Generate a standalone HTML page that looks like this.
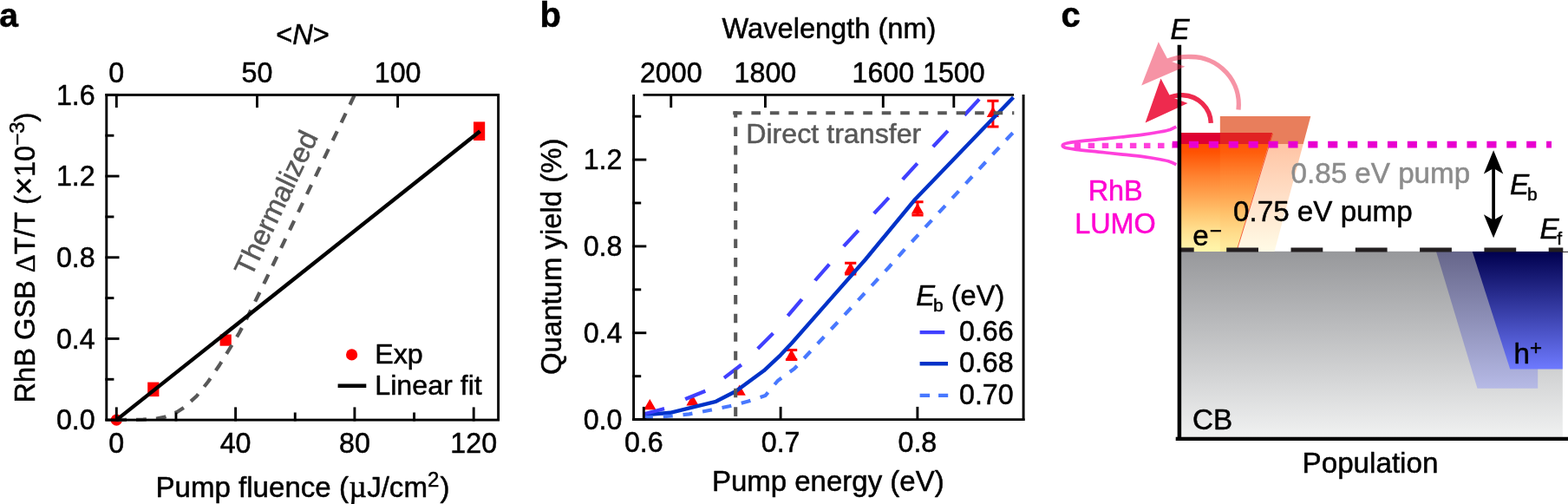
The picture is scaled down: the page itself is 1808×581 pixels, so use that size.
<!DOCTYPE html>
<html lang="en"><head><meta charset="utf-8"><title>Figure</title>
<style>
html,body{margin:0;padding:0;background:#fff;}
body{width:1808px;height:581px;overflow:hidden;}
svg{display:block;font-family:"Liberation Sans",sans-serif;}
text{stroke-width:0.5px;stroke-linejoin:round;}
</style></head><body>
<svg width="1808" height="581" viewBox="0 0 1808 581">
<rect width="1808" height="581" fill="#fff"/>
<g id="panel-a">
<text x="-0.8" y="31" text-anchor="start" font-size="39" fill="#000" stroke="#000" font-weight="bold">a</text>
<circle cx="134.3" cy="484.1" r="6.6" fill="#ff0000"/>
<rect x="170.2" y="440.6" width="13.2" height="16.5" fill="#ff0000"/>
<rect x="253.6" y="385.5" width="13.2" height="13.2" fill="#ff0000"/>
<rect x="546" y="140.4" width="13.2" height="21.6" fill="#ff0000"/>
<polyline points="408.6,110.0 306.3,323.0 296.5,343.0 286.6,363.0 276.0,383.5 264.5,402.5 253.0,421.0 240.0,440.0 226.8,456.5 212.5,469.5 203.7,475.2 190.5,480.6 180.6,482.6 165.0,483.7 134.3,484.1" fill="none" stroke="#585858" stroke-width="4.2" stroke-dasharray="11.9 11" stroke-dashoffset="0" stroke-linejoin="round"/>
<line x1="134.3" y1="484.1" x2="553.5" y2="151.3" stroke="#000" stroke-width="4.4" />
<rect x="122.8" y="109.4" width="451.8" height="374.7" fill="none" stroke="#000" stroke-width="2.9"/>
<line x1="134.3" y1="485.5" x2="134.3" y2="469.40000000000003" stroke="#000" stroke-width="2.9" />
<text transform="translate(134.30,521.80) scale(1,1.04)" text-anchor="middle" font-size="32.2" fill="#000" stroke="#000" >0</text>
<line x1="271.6" y1="485.5" x2="271.6" y2="469.40000000000003" stroke="#000" stroke-width="2.9" />
<text transform="translate(271.60,521.80) scale(1,1.04)" text-anchor="middle" font-size="32.2" fill="#000" stroke="#000" >40</text>
<line x1="408.90000000000003" y1="485.5" x2="408.90000000000003" y2="469.40000000000003" stroke="#000" stroke-width="2.9" />
<text transform="translate(408.90,521.80) scale(1,1.04)" text-anchor="middle" font-size="32.2" fill="#000" stroke="#000" >80</text>
<line x1="546.2" y1="485.5" x2="546.2" y2="469.40000000000003" stroke="#000" stroke-width="2.9" />
<text transform="translate(546.20,521.80) scale(1,1.04)" text-anchor="middle" font-size="32.2" fill="#000" stroke="#000" >120</text>
<line x1="202.95000000000002" y1="485.5" x2="202.95000000000002" y2="475.5" stroke="#000" stroke-width="2.9" />
<line x1="340.25" y1="485.5" x2="340.25" y2="475.5" stroke="#000" stroke-width="2.9" />
<line x1="477.55" y1="485.5" x2="477.55" y2="475.5" stroke="#000" stroke-width="2.9" />
<line x1="134.3" y1="108.0" x2="134.3" y2="124.10000000000001" stroke="#000" stroke-width="2.9" />
<text transform="translate(134.30,95.00) scale(1,1.04)" text-anchor="middle" font-size="32.2" fill="#000" stroke="#000" >0</text>
<line x1="296.45000000000005" y1="108.0" x2="296.45000000000005" y2="124.10000000000001" stroke="#000" stroke-width="2.9" />
<text transform="translate(296.45,95.00) scale(1,1.04)" text-anchor="middle" font-size="32.2" fill="#000" stroke="#000" >50</text>
<line x1="458.6" y1="108.0" x2="458.6" y2="124.10000000000001" stroke="#000" stroke-width="2.9" />
<text transform="translate(458.60,95.00) scale(1,1.04)" text-anchor="middle" font-size="32.2" fill="#000" stroke="#000" >100</text>
<line x1="121.39999999999999" y1="484.1" x2="137.5" y2="484.1" stroke="#000" stroke-width="2.9" />
<text transform="translate(109.70,495.20) scale(1,1.04)" text-anchor="end" font-size="32.2" fill="#000" stroke="#000" >0.0</text>
<line x1="121.39999999999999" y1="390.42400000000004" x2="137.5" y2="390.42400000000004" stroke="#000" stroke-width="2.9" />
<text transform="translate(109.70,401.52) scale(1,1.04)" text-anchor="end" font-size="32.2" fill="#000" stroke="#000" >0.4</text>
<line x1="121.39999999999999" y1="296.74800000000005" x2="137.5" y2="296.74800000000005" stroke="#000" stroke-width="2.9" />
<text transform="translate(109.70,307.85) scale(1,1.04)" text-anchor="end" font-size="32.2" fill="#000" stroke="#000" >0.8</text>
<line x1="121.39999999999999" y1="203.07200000000006" x2="137.5" y2="203.07200000000006" stroke="#000" stroke-width="2.9" />
<text transform="translate(109.70,214.17) scale(1,1.04)" text-anchor="end" font-size="32.2" fill="#000" stroke="#000" >1.2</text>
<line x1="121.39999999999999" y1="109.39600000000002" x2="137.5" y2="109.39600000000002" stroke="#000" stroke-width="2.9" />
<text transform="translate(109.70,120.50) scale(1,1.04)" text-anchor="end" font-size="32.2" fill="#000" stroke="#000" >1.6</text>
<line x1="121.39999999999999" y1="437.262" x2="131.4" y2="437.262" stroke="#000" stroke-width="2.9" />
<line x1="121.39999999999999" y1="343.586" x2="131.4" y2="343.586" stroke="#000" stroke-width="2.9" />
<line x1="121.39999999999999" y1="249.91000000000003" x2="131.4" y2="249.91000000000003" stroke="#000" stroke-width="2.9" />
<line x1="121.39999999999999" y1="156.23400000000004" x2="131.4" y2="156.23400000000004" stroke="#000" stroke-width="2.9" />
<text x="349" y="573" text-anchor="middle" font-size="33.1" fill="#000" stroke="#000" >Pump fluence (<tspan font-family="Liberation Serif, serif" font-size="35" dx="0.5">µ</tspan><tspan dx="0.5">J/cm</tspan><tspan dy="-12" font-size="24">2</tspan><tspan dy="12" dx="1.2">)</tspan></text>
<text x="349" y="50.7" text-anchor="middle" font-size="32.6" fill="#000" stroke="#000" >&lt;<tspan font-style="italic">N</tspan>&gt;</text>
<text transform="translate(40,297) rotate(-90)" text-anchor="middle" font-size="32.6" stroke="#000">RhB GSB <tspan font-family="Liberation Serif, serif">Δ</tspan>T/T (<tspan font-size="36">×</tspan>10<tspan dy="-12" font-size="24">−3</tspan><tspan dy="12">)</tspan></text>
<text transform="translate(289.6,320.4) rotate(-64.5)" font-size="32.8" fill="#585858" stroke="#585858">Thermalized</text>
<circle cx="405.6" cy="408.9" r="6.6" fill="#ff0000"/>
<text x="432.3" y="419" text-anchor="start" font-size="32.2" fill="#000" stroke="#000" >Exp</text>
<line x1="389.6" y1="444.8" x2="422.3" y2="444.8" stroke="#000" stroke-width="4.4" />
<text x="432.3" y="455" text-anchor="start" font-size="32.2" fill="#000" stroke="#000" >Linear fit</text>
</g>
<g id="panel-b">
<text x="622.5" y="30.6" text-anchor="start" font-size="40" fill="#000" stroke="#000" font-weight="bold">b</text>
<polygon points="749.3,459.9 756.4,472.3 742.1999999999999,472.3" fill="#ff0000"/>
<polygon points="798.5,455.1 805.6,467.5 791.4,467.5" fill="#ff0000"/>
<polygon points="852.7,443.4 859.8000000000001,455.8 845.6,455.8" fill="#ff0000"/>
<path d="M912.6,403.5 V414.5 M906.0,403.5 H919.2 M906.0,414.5 H919.2" stroke="#ff0000" stroke-width="3" fill="none"/>
<polygon points="912.6,402.6 919.7,415.2 905.5,415.2" fill="#ff0000"/>
<path d="M980.7,303.3 V316 M974.1,303.3 H987.3000000000001 M974.1,316 H987.3000000000001" stroke="#ff0000" stroke-width="3" fill="none"/>
<polygon points="980.7,302.3 987.8000000000001,315 973.6,315" fill="#ff0000"/>
<path d="M1058,232.8 V248 M1051.4,232.8 H1064.6 M1051.4,248 H1064.6" stroke="#ff0000" stroke-width="3" fill="none"/>
<polygon points="1058,234 1065.1,246.5 1050.9,246.5" fill="#ff0000"/>
<path d="M1144.9,116.2 V146 M1138.3000000000002,116.2 H1151.5 M1138.3000000000002,146 H1151.5" stroke="#ff0000" stroke-width="3" fill="none"/>
<polygon points="1144.9,122.8 1152.0,135 1137.8000000000002,135" fill="#ff0000"/>
<polyline points="741.9,478.4 772.7,475.8 825.6,462.8 848.5,451.0 880.8,427.3 900.0,409.3 913.0,395.5 951.6,351.6 998.0,299.0 1055.0,230.0 1132.0,150.0 1168.5,112.3" fill="none" stroke="#0032c8" stroke-width="4.4" stroke-linejoin="round"/>
<polyline points="741.9,477.5 766.5,471.0 791.0,459.8 814.3,450.4 835.0,435.6 855.6,420.0 873.7,402.0 891.8,384.0 909.0,363.3 924.5,345.2 940.0,323.2 956.8,303.9 973.6,283.0 990.4,264.9 1008.4,245.5 1025.2,227.5 1042.0,205.5 1057.5,188.7 1076.9,168.0 1093.7,150.0 1113.0,131.7 1129.8,113.6 1133.0,110.0" fill="none" stroke="#4040ff" stroke-width="4.2" stroke-dasharray="25 26.45"/>
<polyline points="741.9,481.4 774.9,479.5 794.7,477.3 819.0,472.8 841.0,468.3 863.0,462.6 882.5,456.0 897.0,438.7 916.0,425.0 1025.0,308.0 1040.0,291.0 1164.6,156.5 1168.5,152.6" fill="none" stroke="#4878ff" stroke-width="4.2" stroke-dasharray="11 11.87"/>
<line x1="848.2" y1="128.2" x2="848.2" y2="483.6" stroke="#585858" stroke-width="4.1" stroke-dasharray="10.6 10.93" stroke-dashoffset="3.4"/>
<line x1="845.2" y1="130.2" x2="1169.3" y2="130.2" stroke="#585858" stroke-width="4.1" stroke-dasharray="10.6 10.88" stroke-dashoffset="0.3"/>
<text x="860.2" y="165" text-anchor="start" font-size="32.2" fill="#585858" stroke="#585858" >Direct transfer</text>
<line x1="730.6" y1="109.0" x2="730.6" y2="485.05" stroke="#000" stroke-width="2.9" />
<line x1="1180.1" y1="109.0" x2="1180.1" y2="485.05" stroke="#000" stroke-width="2.9" />
<line x1="729.15" y1="483.6" x2="1181.55" y2="483.6" stroke="#000" stroke-width="2.9" />
<line x1="741.6" y1="109.4" x2="1169" y2="109.4" stroke="#000" stroke-width="2.9" />
<line x1="742.3" y1="485.0" x2="742.3" y2="468.90000000000003" stroke="#000" stroke-width="2.9" />
<text transform="translate(742.30,520.60) scale(1,1.04)" text-anchor="middle" font-size="32.2" fill="#000" stroke="#000" >0.6</text>
<line x1="900.0999999999999" y1="485.0" x2="900.0999999999999" y2="468.90000000000003" stroke="#000" stroke-width="2.9" />
<text transform="translate(900.10,520.60) scale(1,1.04)" text-anchor="middle" font-size="32.2" fill="#000" stroke="#000" >0.7</text>
<line x1="1057.9" y1="485.0" x2="1057.9" y2="468.90000000000003" stroke="#000" stroke-width="2.9" />
<text transform="translate(1057.90,520.60) scale(1,1.04)" text-anchor="middle" font-size="32.2" fill="#000" stroke="#000" >0.8</text>
<line x1="773.7337599999998" y1="108.0" x2="773.7337599999998" y2="124.10000000000001" stroke="#000" stroke-width="2.9" />
<text transform="translate(773.73,95.00) scale(1,1.04)" text-anchor="middle" font-size="32.2" fill="#000" stroke="#000" >2000</text>
<line x1="882.4264" y1="108.0" x2="882.4264" y2="124.10000000000001" stroke="#000" stroke-width="2.9" />
<text transform="translate(882.43,95.00) scale(1,1.04)" text-anchor="middle" font-size="32.2" fill="#000" stroke="#000" >1800</text>
<line x1="1018.2921999999999" y1="108.0" x2="1018.2921999999999" y2="124.10000000000001" stroke="#000" stroke-width="2.9" />
<text transform="translate(1018.29,95.00) scale(1,1.04)" text-anchor="middle" font-size="32.2" fill="#000" stroke="#000" >1600</text>
<line x1="1099.8116799999998" y1="108.0" x2="1099.8116799999998" y2="124.10000000000001" stroke="#000" stroke-width="2.9" />
<text transform="translate(1099.81,95.00) scale(1,1.04)" text-anchor="middle" font-size="32.2" fill="#000" stroke="#000" >1500</text>
<line x1="729.2" y1="483.6" x2="745.3000000000001" y2="483.6" stroke="#000" stroke-width="2.9" />
<text transform="translate(717.40,494.70) scale(1,1.04)" text-anchor="end" font-size="32.2" fill="#000" stroke="#000" >0.0</text>
<line x1="729.2" y1="383.76" x2="745.3000000000001" y2="383.76" stroke="#000" stroke-width="2.9" />
<text transform="translate(717.40,394.86) scale(1,1.04)" text-anchor="end" font-size="32.2" fill="#000" stroke="#000" >0.4</text>
<line x1="729.2" y1="283.92" x2="745.3000000000001" y2="283.92" stroke="#000" stroke-width="2.9" />
<text transform="translate(717.40,295.02) scale(1,1.04)" text-anchor="end" font-size="32.2" fill="#000" stroke="#000" >0.8</text>
<line x1="729.2" y1="184.08000000000004" x2="745.3000000000001" y2="184.08000000000004" stroke="#000" stroke-width="2.9" />
<text transform="translate(717.40,195.18) scale(1,1.04)" text-anchor="end" font-size="32.2" fill="#000" stroke="#000" >1.2</text>
<line x1="729.2" y1="433.68" x2="739.2" y2="433.68" stroke="#000" stroke-width="2.9" />
<line x1="729.2" y1="333.84000000000003" x2="739.2" y2="333.84000000000003" stroke="#000" stroke-width="2.9" />
<line x1="729.2" y1="234.00000000000003" x2="739.2" y2="234.00000000000003" stroke="#000" stroke-width="2.9" />
<line x1="729.2" y1="134.16000000000003" x2="739.2" y2="134.16000000000003" stroke="#000" stroke-width="2.9" />
<text x="954.8" y="566.2" text-anchor="middle" font-size="33" fill="#000" stroke="#000" >Pump energy (eV)</text>
<text x="956" y="44" text-anchor="middle" font-size="32.6" fill="#000" stroke="#000" >Wavelength (nm)</text>
<text transform="translate(646.5,295.8) rotate(-90)" text-anchor="middle" font-size="32.9" stroke="#000">Quantum yield (%)</text>
<text x="1056.3" y="351.6" text-anchor="start" font-size="32.6" fill="#000" stroke="#000" ><tspan font-style="italic">E</tspan><tspan dy="7.3" dx="-2" font-size="21">b</tspan><tspan dy="-7.3"> (eV)</tspan></text>
<line x1="1060.6" y1="383.1" x2="1089.3" y2="383.1" stroke="#4040ff" stroke-width="4.2" />
<text transform="translate(1106.00,392.90) scale(1,1.04)" text-anchor="start" font-size="32.2" fill="#000" stroke="#000" >0.66</text>
<line x1="1060.6" y1="419.3" x2="1093" y2="419.3" stroke="#0032c8" stroke-width="4.4" />
<text transform="translate(1106.00,429.10) scale(1,1.04)" text-anchor="start" font-size="32.2" fill="#000" stroke="#000" >0.68</text>
<line x1="1060.6" y1="455.8" x2="1093.2" y2="455.8" stroke="#4878ff" stroke-width="4.2" stroke-dasharray="11.5 10"/>
<text transform="translate(1106.00,465.60) scale(1,1.04)" text-anchor="start" font-size="32.2" fill="#000" stroke="#000" >0.70</text>
</g>
<g id="panel-c">
<defs>
<linearGradient id="gGrey" x1="0" y1="0" x2="0" y2="1"><stop offset="0" stop-color="#97989b"/><stop offset="1" stop-color="#f1f2f2"/></linearGradient>
<linearGradient id="gOr" gradientUnits="userSpaceOnUse" x1="0" y1="153" x2="0" y2="290"><stop offset="0" stop-color="#de0032"/><stop offset="0.092" stop-color="#de0032"/><stop offset="0.093" stop-color="#ff4a00"/><stop offset="0.16" stop-color="#ff5202"/><stop offset="0.365" stop-color="#ff8230"/><stop offset="0.52" stop-color="#ffa24e"/><stop offset="0.675" stop-color="#ffc46e"/><stop offset="0.807" stop-color="#ffdd8c"/><stop offset="0.94" stop-color="#fff0a4"/><stop offset="1" stop-color="#fff6aa"/></linearGradient>
<linearGradient id="gOr2" gradientUnits="userSpaceOnUse" x1="0" y1="134" x2="0" y2="290"><stop offset="0" stop-color="#e87e5c"/><stop offset="0.205" stop-color="#e87e5c"/><stop offset="0.206" stop-color="#ffc4a4"/><stop offset="0.6" stop-color="#ffe0c8"/><stop offset="1" stop-color="#fffbe6"/></linearGradient>
<linearGradient id="gBl" gradientUnits="userSpaceOnUse" x1="0" y1="290" x2="0" y2="426"><stop offset="0" stop-color="#00004e"/><stop offset="1" stop-color="#6e7aff"/></linearGradient>
<linearGradient id="gBl2" gradientUnits="userSpaceOnUse" x1="0" y1="290" x2="0" y2="448"><stop offset="0" stop-color="#66668a"/><stop offset="1" stop-color="#b6bae6"/></linearGradient>
</defs>
<text x="1223.5" y="30.6" text-anchor="start" font-size="40" fill="#000" stroke="#000" font-weight="bold">c</text>
<rect x="1360" y="289.8" width="441.8" height="216.2" fill="url(#gGrey)"/>
<polygon points="1656,290 1773.2,290 1773.2,447.8 1703.5,447.8" fill="url(#gBl2)"/>
<polygon points="1697.8,290 1801.8,290 1801.8,425.6 1741.2,425.6" fill="url(#gBl)"/>
<polygon points="1406.8,134.1 1511.3,134.1 1469.5,290 1406.8,290" fill="url(#gOr2)"/>
<polygon points="1360,153 1467,153 1425.4,290 1360,290" fill="url(#gOr)"/>
<polygon points="1406.8,153 1467,153 1425.4,290 1406.8,290" fill="#ffb050" opacity="0.12"/>
<polygon points="1406.8,153 1467,153 1463.2,165.6 1406.8,165.6" fill="#e0340c" opacity="0.45"/>
<line x1="1467.5" y1="154" x2="1425.7" y2="290" stroke="#f03c14" stroke-width="0.8"/>
<line x1="1808" y1="290.4" x2="1800" y2="290.4" stroke="#231f20" stroke-width="1" />
<line x1="1339.9" y1="288" x2="1802.3" y2="288" stroke="#231f20" stroke-width="5" stroke-dasharray="36.8 37.5" stroke-dashoffset="0"/>
<rect x="1330" y="280" width="28" height="16" fill="#fff"/>
<path d="M1356.30,146.10 C1355.12,146.65 1352.32,148.42 1349.20,149.40 C1346.08,150.38 1342.75,151.05 1337.60,152.00 C1332.45,152.95 1325.83,154.10 1318.30,155.10 C1310.77,156.10 1301.02,157.07 1292.40,158.00 C1283.78,158.93 1275.20,159.80 1266.60,160.70 C1258.00,161.60 1246.82,162.68 1240.80,163.40 C1234.78,164.12 1232.92,164.50 1230.50,165.00 C1228.08,165.50 1227.18,165.92 1226.30,166.40 C1225.42,166.88 1225.20,167.40 1225.20,167.90 C1225.20,168.40 1225.42,168.92 1226.30,169.40 C1227.18,169.88 1228.08,170.30 1230.50,170.80 C1232.92,171.30 1234.78,171.68 1240.80,172.40 C1246.82,173.12 1258.00,174.20 1266.60,175.10 C1275.20,176.00 1283.78,176.87 1292.40,177.80 C1301.02,178.73 1310.77,179.70 1318.30,180.70 C1325.83,181.70 1332.45,182.85 1337.60,183.80 C1342.75,184.75 1346.08,185.42 1349.20,186.40 C1352.32,187.38 1355.12,189.15 1356.30,189.70" fill="none" stroke="#ff40dc" stroke-width="3.7"/>
<line x1="1238.6" y1="167.95" x2="1351.6" y2="167.95" stroke="#ff40dc" stroke-width="6.2" stroke-dasharray="7.5 8.57"/>
<line x1="1351.8" y1="166.6" x2="1789" y2="166.6" stroke="#e800d0" stroke-width="7.6" stroke-dasharray="11.1 11.8" stroke-dashoffset="3.8"/>
<path d="M1396.3,141.8 A33.4,33.4 0 0 0 1364,109.7 Q1355,109.3 1346,113.5" fill="none" stroke="#ee2a4e" stroke-width="5.4"/>
<polygon points="1320.6,141.6 1338.5,90.6 1349.5,111.5 1369.5,118.9" fill="#ee2a4e"/>
<line x1="1359.9" y1="51.7" x2="1359.9" y2="508" stroke="#000" stroke-width="4.5" />
<line x1="1355.7" y1="505.9" x2="1808" y2="505.9" stroke="#000" stroke-width="4.4" />
<g opacity="0.5"><path d="M1345,70.5 Q1359,65 1372.6,65.5 A55,55 0 0 1 1428,126.5" fill="none" stroke="#ee2a4e" stroke-width="5.3"/>
<polygon points="1316.2,98.4 1335.8,48.3 1347,69.5 1366.4,76.7" fill="#ee2a4e"/></g>
<line x1="1722.1" y1="190" x2="1722.1" y2="258" stroke="#000" stroke-width="3.7" />
<polygon points="1722.1,173.3 1733.3,200.5 1722.1,194 1710.9,200.5" fill="#000"/>
<polygon points="1722.1,274.3 1733.3,247.3 1722.1,253.8 1710.9,247.3" fill="#000"/>
<text x="1349.5" y="44.6" text-anchor="start" font-size="33.2" fill="#000" stroke="#000" font-style="italic">E</text>
<text x="1286.2" y="230.6" text-anchor="middle" font-size="32.4" fill="#ff00d2" stroke="#ff00d2" >RhB</text>
<text x="1286" y="269.3" text-anchor="middle" font-size="32.4" fill="#ff00d2" stroke="#ff00d2" >LUMO</text>
<text x="1488.5" y="211" text-anchor="start" font-size="33.2" fill="#8c8c8c" stroke="#8c8c8c" >0.85 eV pump</text>
<text x="1422" y="254.7" text-anchor="start" font-size="33.2" fill="#000" stroke="#000" >0.75 eV pump</text>
<text x="1375.2" y="283" text-anchor="start" font-size="33.2" fill="#000" stroke="#000" >e<tspan dy="-9" dx="1" font-size="24">−</tspan></text>
<text x="1741" y="224" text-anchor="start" font-size="33.2" fill="#000" stroke="#000" ><tspan font-style="italic">E</tspan><tspan dy="7.3" dx="-2.2" font-size="21">b</tspan></text>
<text x="1775.6" y="275" text-anchor="start" font-size="33.2" fill="#000" stroke="#000" ><tspan font-style="italic">E</tspan><tspan dy="7.3" dx="-2.6" font-size="21">f</tspan></text>
<text x="1745.5" y="419" text-anchor="start" font-size="33.2" fill="#000" stroke="#000" >h<tspan dy="-10" font-size="24">+</tspan></text>
<text x="1375" y="494.8" text-anchor="start" font-size="33.2" fill="#000" stroke="#000" >CB</text>
<text x="1580" y="544.6" text-anchor="middle" font-size="33.2" fill="#000" stroke="#000" >Population</text>
</g>
</svg>
</body></html>
